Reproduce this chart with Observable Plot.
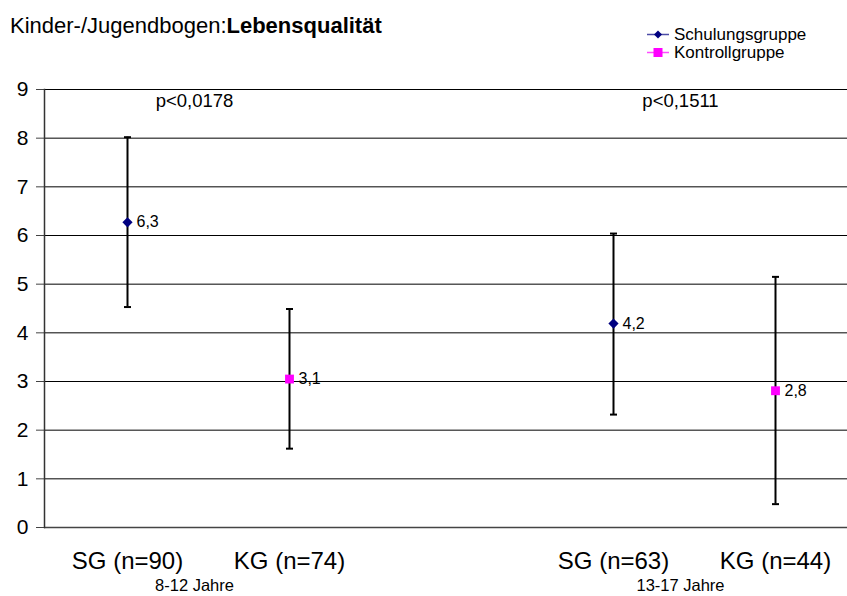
<!DOCTYPE html>
<html>
<head>
<meta charset="utf-8">
<script src="https://cdn.jsdelivr.net/npm/d3@7"></script>
<script src="https://cdn.jsdelivr.net/npm/@observablehq/plot@0.6"></script>
<style>
  body { margin: 0; background: #fff; font-family: "Liberation Sans", Arial, sans-serif; }
  #wrap { position: relative; width: 847px; height: 596px; overflow: hidden; }
  #title { position: absolute; left: 10px; top: 13px; font-size: 22px; color: #000; white-space: nowrap; }
  #legend { position: absolute; left: 647px; top: 26px; font-size: 17px; line-height: 17.5px; color: #000; }
  #legend div { display: flex; align-items: center; height: 17.5px; }
  #legend svg { margin-right: 5px; }
  #chart { position: absolute; left: 0; top: 0; }
</style>
</head>
<body>
<div id="wrap">
  <div id="chart"></div>
  <div id="title">Kinder-/Jugendbogen:<b>Lebensqualität</b></div>
  <div id="legend"></div>
</div>
<script>
// ---- data ----
const slots = ["SG (n=90)", "KG (n=74)", "gap", "SG (n=63)", "KG (n=44)"];
const categories = ["SG (n=90)", "KG (n=74)", "SG (n=63)", "KG (n=44)"];
const groups = ["Schulungsgruppe", "Kontrollgruppe", "Schulungsgruppe", "Kontrollgruppe"];
const means = [6.27, 3.05, 4.19, 2.81];
const meanLabels = ["6,3", "3,1", "4,2", "2,8"];
const lows = [4.53, 1.62, 2.32, 0.48];
const highs = [8.02, 4.49, 6.04, 5.15];
const ageGroups = ["8-12 Jahre", "13-17 Jahre"];
const ageAnchors = ["SG (n=90)", "SG (n=63)"];
const pValues = ["p<0,0178", "p<0,1511"];
const yTicks = [0, 1, 2, 3, 4, 5, 6, 7, 8, 9];
const seriesNames = ["Schulungsgruppe", "Kontrollgruppe"];
const seriesColors = ["#000080", "#FF00FF"];

const rows = categories.map((c, i) => ({
  cat: c, group: groups[i], mean: means[i], label: meanLabels[i], lo: lows[i], hi: highs[i]
}));
const ageRows = ageGroups.map((a, i) => ({ label: a, cat: ageAnchors[i], p: pValues[i] }));

const capSymbol = {
  draw(context, size) {
    const r = Math.sqrt(size / Math.PI);
    context.moveTo(-r, 0);
    context.lineTo(r, 0);
  }
};

const chart = Plot.plot({
  width: 847,
  height: 596,
  marginTop: 89,
  marginBottom: 69,
  marginLeft: 44,
  marginRight: 0,
  style: { fontFamily: "'Liberation Sans', Arial, sans-serif", background: "transparent", overflow: "visible" },
  x: { type: "point", domain: slots, range: [44, 857.5], padding: 0.5, axis: null },
  y: { domain: [0, 9], axis: null },
  marks: [
    Plot.ruleY(yTicks, { stroke: "#000", strokeWidth: 1 }),
    Plot.ruleY([0], { stroke: "#444", strokeWidth: 1.5 }),
    Plot.axisY({ ticks: yTicks, tickSize: 8, tickPadding: 8, fontSize: 21, stroke: "#444", fill: "#000", label: null }),
    Plot.frame({ anchor: "left", stroke: "#333", strokeWidth: 1.5 }),
    Plot.ruleX(rows, { x: "cat", y1: "lo", y2: "hi", stroke: "#000", strokeWidth: 2 }),
    Plot.dot(rows, { x: "cat", y: "lo", symbol: capSymbol, r: 3.5, stroke: "#000", strokeWidth: 2 }),
    Plot.dot(rows, { x: "cat", y: "hi", symbol: capSymbol, r: 3.5, stroke: "#000", strokeWidth: 2 }),
    Plot.dot(rows.filter(d => d.group === seriesNames[0]), { x: "cat", y: "mean", symbol: "diamond2", r: 4.6, fill: seriesColors[0], stroke: "none" }),
    Plot.dot(rows.filter(d => d.group === seriesNames[1]), { x: "cat", y: "mean", symbol: "square", r: 5, fill: seriesColors[1], stroke: "none" }),
    Plot.text(rows, { x: "cat", y: "mean", text: "label", dx: 9, textAnchor: "start", fontSize: 16, fill: "#000" }),
    Plot.text(categories, { x: d => d, y: () => 0, text: d => d, dy: 34, fontSize: 24, fill: "#000" }),
    Plot.text(ageRows, { x: "cat", y: () => 0, text: "label", dx: 67, dy: 58, fontSize: 16.5, fill: "#000" }),
    Plot.text(ageRows, { x: "cat", y: () => 9, text: "p", dx: 67, dy: 12, fontSize: 18.5, fill: "#000" })
  ]
});
document.getElementById("chart").appendChild(chart);

// legend
const legend = document.getElementById("legend");
seriesNames.forEach((name, i) => {
  const row = document.createElement("div");
  const marker = i === 0
    ? `<polygon points="11,1.5 15,5.5 11,9.5 7,5.5" fill="${seriesColors[i]}"/>`
    : `<rect x="6.5" y="1" width="9" height="9" fill="${seriesColors[i]}"/>`;
  row.innerHTML = `<svg width="22" height="11"><line x1="0" x2="22" y1="5.5" y2="5.5" stroke="${seriesColors[i]}" stroke-opacity="0.7" stroke-width="1.5"/>${marker}</svg><span>${name}</span>`;
  legend.appendChild(row);
});
</script>
</body>
</html>
